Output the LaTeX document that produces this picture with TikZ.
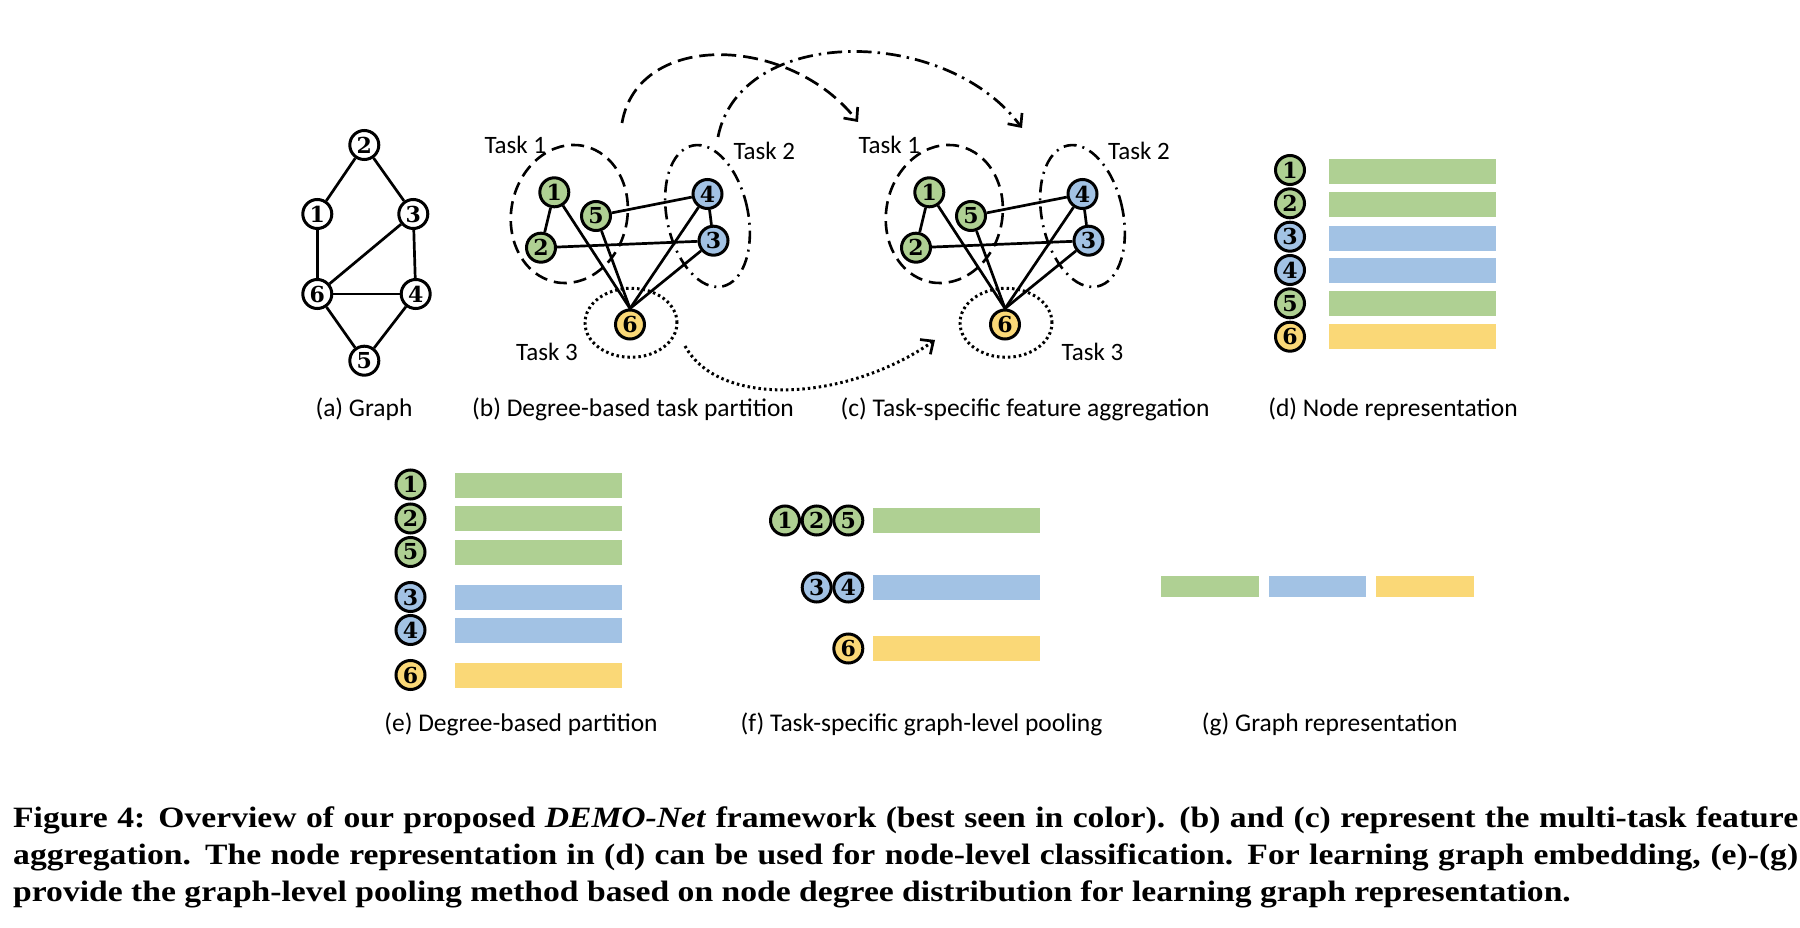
\documentclass[tikz,border=0pt]{standalone}
\usepackage{fontspec}
\setmainfont{Carlito}
\newfontfamily\numfont{DejaVu Serif}
\newfontfamily\capfont[FakeStretch=1.14]{Liberation Serif}
\usetikzlibrary{arrows.meta,shapes.geometric}

\definecolor{cgreen}{HTML}{AFD093}
\definecolor{cblue}{HTML}{A2C2E4}
\definecolor{cyellow}{HTML}{FAD877}

\tikzset{
  vtx/.style={circle, draw=black, line width=3pt, minimum size=29pt, inner sep=0pt,
    font=\numfont\bfseries\fontsize{22}{22}\selectfont},
  gv/.style={vtx, fill=cgreen},
  bv/.style={vtx, fill=cblue},
  yv/.style={vtx, fill=cyellow},
  wv/.style={vtx, fill=white},
  lnk/.style={line width=2.7pt},
  fbar/.style={inner sep=0pt, outer sep=0pt, minimum height=25pt, anchor=west},
  sublabel/.style={anchor=base, inner sep=0pt, font=\fontsize{25.5}{30}\selectfont},
  tasklabel/.style={anchor=base west, inner sep=0pt, font=\fontsize{25}{30}\selectfont},
  t1shape/.style={ellipse, draw, line width=2.6pt, dash pattern=on 13pt off 7pt,
    minimum width=116pt, minimum height=139pt, inner sep=0pt, rotate=-12},
  t2shape/.style={ellipse, draw, line width=2.6pt, dash pattern=on 13pt off 6pt on 2pt off 6pt,
    minimum width=81pt, minimum height=144pt, inner sep=0pt, rotate=12},
  t3shape/.style={ellipse, draw, line width=3pt, dash pattern=on 2.5pt off 3pt,
    minimum width=92pt, minimum height=69pt, inner sep=0pt},
  arrowhd/.style={-{Straight Barb[length=10pt,width=18pt,line width=2.7pt]}},
  caption/.style={anchor=base west, inner sep=0pt,
    font=\capfont\bfseries\fontsize{29.5}{30}\selectfont},
}

\newcommand\drawtaskgraph{%
  \node[gv] (1) at (554.3,192.3) {1};
  \node[gv] (5) at (596,216) {5};
  \node[gv] (2) at (541,247.7) {2};
  \node[bv] (4) at (707.5,194) {4};
  \node[bv] (3) at (713.5,240.7) {3};
  \node[yv] (6) at (630,324.5) {6};
  \draw[lnk] (1) -- (2);
  \draw[lnk] (1) -- (6.north);
  \draw[lnk] (5) -- (6.north);
  \draw[lnk] (5) -- (4);
  \draw[lnk] (2) -- (3);
  \draw[lnk] (4) -- (3);
  \draw[lnk] (4) -- (6.north);
  \draw[lnk] (3) -- (6.north);
  \node[t1shape] (t1) at (569.3,214) {};
  \node[t2shape] (t2) at (707.5,216) {};
  \node[t3shape] (t3) at (631,322.8) {};
}

\begin{document}
\begin{tikzpicture}[x=1pt, y=-1pt]
\fill[white] (0,0) rectangle (1800,928);
\useasboundingbox (0,0) rectangle (1800,928);

% (a) Graph
\node[wv] (a2) at (364.3,145) {2};
\node[wv] (a1) at (317.3,214) {1};
\node[wv] (a3) at (413.3,214) {3};
\node[wv] (a6) at (317.3,294) {6};
\node[wv] (a4) at (415.7,294) {4};
\node[wv] (a5) at (364.3,360.7) {5};
\draw[lnk] (a2) -- (a1);
\draw[lnk] (a2) -- (a3);
\draw[lnk] (a1) -- (a6);
\draw[lnk] (a3) -- (a6);
\draw[lnk] (a3) -- (a4);
\draw[lnk] (a6) -- (a4);
\draw[lnk] (a6) -- (a5);
\draw[lnk] (a4) -- (a5);

% (b) and (c)
\begin{scope}[name prefix=b-]
  \drawtaskgraph
\end{scope}
\begin{scope}[name prefix=c-, xshift=375pt]
  \drawtaskgraph
\end{scope}

\node[tasklabel] (lb1) at (484.3,154) {Task 1};
\node[tasklabel] (lb2) at (733.3,160) {Task 2};
\node[tasklabel] (lb3) at (516,360) {Task 3};
\node[tasklabel] (lc1) at (858.3,153.5) {Task 1};
\node[tasklabel] (lc2) at (1108,160) {Task 2};
\node[tasklabel] (lc3) at (1061.5,360) {Task 3};

% arrows between (b) and (c)
\coordinate (ar1s) at (622,123);
\coordinate (ar1e) at (858,122);
\coordinate (ar2s) at (718,137);
\coordinate (ar2e) at (1022,128);
\coordinate (ar3s) at (685,346);
\coordinate (ar3e) at (935,340);
\draw[lnk, arrowhd, dash pattern=on 15pt off 7pt] (ar1s) .. controls (638,30) and (790,35) .. (ar1e);
\draw[lnk, arrowhd, dash pattern=on 15pt off 6pt on 2.5pt off 6pt] (ar2s) .. controls (740,25) and (945,25) .. (ar2e);
\draw[lnk, arrowhd, line width=3pt, dash pattern=on 2.5pt off 3pt] (ar3s) .. controls (720,410) and (850,400) .. (ar3e);

% (d) Node representation
\node[gv] (d1) at (1290,170) {1};
\node[gv] (d2) at (1290,203.3) {2};
\node[bv] (d3) at (1290,236.7) {3};
\node[bv] (d4) at (1290,270) {4};
\node[gv] (d5) at (1290,303.3) {5};
\node[yv] (d6) at (1290,336.7) {6};
\node[fbar, fill=cgreen,  minimum width=167pt] (db1) at (1329,171.5) {};
\node[fbar, fill=cgreen,  minimum width=167pt] (db2) at (1329,204.2) {};
\node[fbar, fill=cblue,   minimum width=167pt] (db3) at (1329,238.3) {};
\node[fbar, fill=cblue,   minimum width=167pt] (db4) at (1329,270.8) {};
\node[fbar, fill=cgreen,  minimum width=167pt] (db5) at (1329,303.5) {};
\node[fbar, fill=cyellow, minimum width=167pt] (db6) at (1329,336.5) {};

% (e) Degree-based partition
\node[gv] (e1) at (410.5,484.5) {1};
\node[gv] (e2) at (410.5,518.5) {2};
\node[gv] (e5) at (410.5,552) {5};
\node[bv] (e3) at (410.5,597) {3};
\node[bv] (e4) at (410.5,630) {4};
\node[yv] (e6) at (410.5,675) {6};
\node[fbar, fill=cgreen,  minimum width=167pt] (eb1) at (454.5,485) {};
\node[fbar, fill=cgreen,  minimum width=167pt] (eb2) at (454.5,518.5) {};
\node[fbar, fill=cgreen,  minimum width=167pt] (eb5) at (454.5,552.3) {};
\node[fbar, fill=cblue,   minimum width=167pt] (eb3) at (454.5,597) {};
\node[fbar, fill=cblue,   minimum width=167pt] (eb4) at (454.5,630) {};
\node[fbar, fill=cyellow, minimum width=167pt] (eb6) at (454.5,675) {};

% (f) Task-specific graph-level pooling
\node[gv] (f1) at (785,520.5) {1};
\node[gv] (f2) at (816.7,520.5) {2};
\node[gv] (f5) at (848.3,520.5) {5};
\node[bv] (f3) at (816.7,587.5) {3};
\node[bv] (f4) at (848.3,587.5) {4};
\node[yv] (f6) at (848.3,648.5) {6};
\node[fbar, fill=cgreen,  minimum width=166.5pt] (fb1) at (873,520.5) {};
\node[fbar, fill=cblue,   minimum width=166.5pt] (fb2) at (873,587.2) {};
\node[fbar, fill=cyellow, minimum width=166.5pt] (fb3) at (873,648.4) {};

% (g) Graph representation
\node[fbar, fill=cgreen,  minimum width=97.5pt, minimum height=21.5pt] (g1) at (1161,586.7) {};
\node[fbar, fill=cblue,   minimum width=97.5pt, minimum height=21.5pt] (g2) at (1268.5,586.7) {};
\node[fbar, fill=cyellow, minimum width=97.5pt, minimum height=21.5pt] (g3) at (1376.3,586.7) {};

% sub-captions
\node[sublabel] (la) at (364,416) {(a) Graph};
\node[sublabel] (lbb) at (633,416) {(b) Degree-based task partition};
\node[sublabel] (lcc) at (1025,416) {(c) Task-specific feature aggregation};
\node[sublabel] (ld) at (1393,416) {(d) Node representation};
\node[sublabel] (le) at (521,731) {(e) Degree-based partition};
\node[sublabel] (lf) at (921.6,731) {(f) Task-specific graph-level pooling};
\node[sublabel] (lg) at (1329.6,731) {(g) Graph representation};

% caption
\node[caption] (cap1) at (13,827) {\hbox to 1785pt{Figure 4: Overview of our proposed \textit{DEMO-Net} framework (best seen in color). (b) and (c) represent the multi-task feature}};
\node[caption] (cap2) at (13,864.5) {\hbox to 1785pt{aggregation. The node representation in (d) can be used for node-level classification. For learning graph embedding, (e)-(g)}};
\node[caption] (cap3) at (13,901.5) {provide the graph-level pooling method based on node degree distribution for learning graph representation.};
\end{tikzpicture}
\end{document}
